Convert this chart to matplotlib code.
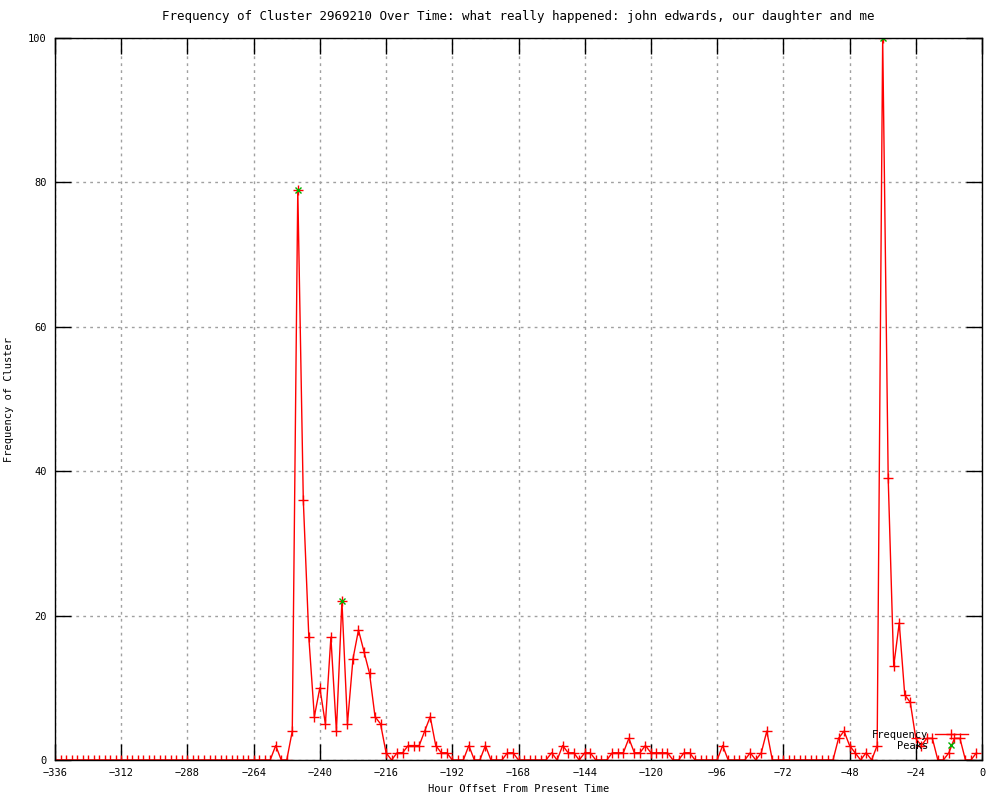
import numpy as np
import matplotlib.pyplot as plt

# hour offsets, every 2 hours from -336 to -2
hours = np.arange(-336, 0, 2)

freq = [0] * 40 + [
    2, 0, 0, 4, 79, 36, 17, 6, 10, 5,
    17, 4, 22, 5, 14, 18, 15, 12, 6, 5,
    1, 0, 1, 1, 2, 2, 2, 4, 6, 2,
    1, 1, 0, 0, 0, 2, 0, 0, 2, 0,
    0, 0, 1, 1, 0, 0, 0, 0, 0, 0,
    1, 0, 2, 1, 1, 0, 1, 1, 0, 0,
    0, 1, 1, 1, 3, 1, 1, 2, 1, 1,
    1, 1, 0, 0, 1, 1, 0, 0, 0, 0,
    0, 2, 0, 0, 0, 0, 1, 0, 1, 4,
    0, 0, 0, 0, 0, 0, 0, 0, 0, 0,
    0, 0, 3, 4, 2, 1, 0, 1, 0, 2,
    100, 39, 13, 19, 9, 8, 3, 2, 3, 3,
    0, 0, 1, 3, 3, 0, 0, 1,
]

peak_hours = [-248, -232, -36]
peak_vals = [79, 22, 100]

plt.rcParams['font.family'] = ['DejaVu Sans Mono']
plt.rcParams['font.size'] = 7.5

fig = plt.figure(figsize=(10, 8), dpi=100)
ax = fig.add_axes([0.055, 0.05, 0.927, 0.9025])

ax.plot(hours, freq, color='red', lw=1, marker='+', ms=7, mew=1, label='Frequency')
ax.plot(peak_hours, peak_vals, ls='none', color='#00b000', marker='x', ms=5, mew=1, label='Peaks')

ax.set_xlim(-336, 0)
ax.set_ylim(0, 100)
ax.set_xticks(np.arange(-336, 1, 24))
ax.set_yticks(np.arange(0, 101, 20))
ax.tick_params(direction='in', length=11.5, width=1, top=True, right=True, pad=6)
ax.grid(True, ls=(0, (2, 3)), color='#a0a0a0', lw=1)
for s in ax.spines.values():
    s.set_linewidth(1)

ax.set_title('Frequency of Cluster 2969210 Over Time: what really happened: john edwards, our daughter and me', pad=13)
ax.set_xlabel('Hour Offset From Present Time', labelpad=4)
ax.set_ylabel('Frequency of Cluster', labelpad=10)

leg = ax.legend(loc='lower right', frameon=False, markerfirst=False, handlelength=3.2,
                borderaxespad=0.5, labelspacing=0.1, handletextpad=0.6,
                bbox_to_anchor=(0.995, 0.0))
for t in leg.get_texts():
    t.set_ha('right')

fig.savefig('out.png', dpi=100)
